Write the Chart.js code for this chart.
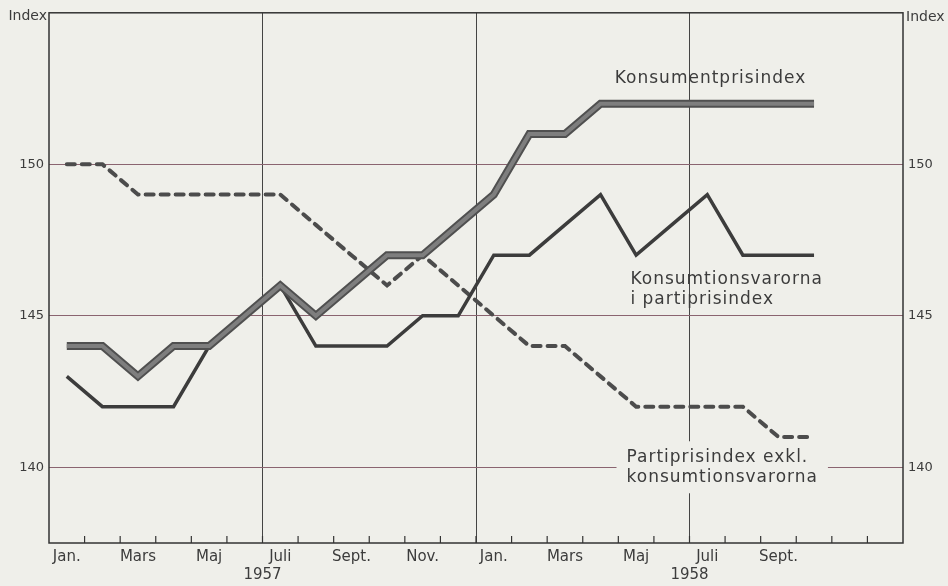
<!DOCTYPE html>
<html lang="sv">
<head>
<meta charset="UTF-8">
<title>Konsumentprisindex och partiprisindex 1957–1958</title>
<script src="https://cdn.jsdelivr.net/npm/chart.js@4.4.1/dist/chart.umd.min.js"></script>
<style>
  body { margin: 0; background: #efefea; }
  canvas { display: block; }
</style>
</head>
<body>
<canvas id="chart" width="948" height="586"></canvas>
<script>
// months jan 1957 - dec 1958
const months = ['1957-01', '1957-02', '1957-03', '1957-04', '1957-05', '1957-06',
  '1957-07', '1957-08', '1957-09', '1957-10', '1957-11', '1957-12',
  '1958-01', '1958-02', '1958-03', '1958-04', '1958-05', '1958-06',
  '1958-07', '1958-08', '1958-09', '1958-10', '1958-11', '1958-12'];
const monthLabels = ['Jan.', '', 'Mars', '', 'Maj', '', 'Juli', '', 'Sept.', '', 'Nov.', '',
  'Jan.', '', 'Mars', '', 'Maj', '', 'Juli', '', 'Sept.', '', '', ''];
const years = ['1957', '1958'];
const yTicks = [140, 145, 150];

const konsumentpris = [144, 144, 143, 144, 144, 145, 146, 145, 146, 147, 147, 148,
  149, 151, 151, 152, 152, 152, 152, 152, 152, 152, null, null];
const konsumtionsvaror = [143, 142, 142, 142, 144, 145, 146, 144, 144, 144, 145, 145,
  147, 147, 148, 149, 147, 148, 149, 147, 147, 147, null, null];
const partiprisExkl = [150, 150, 149, 149, 149, 149, 149, 148, 147, 146, 147, 146,
  145, 144, 144, 143, 142, 142, 142, 142, 141, 141, null, null];

const ink = '#3c3c3c';
const font = '"DejaVu Sans", sans-serif';

// texts written in the plot (x in month index, y in index value)
const notes = [
  { lines: ['Konsumentprisindex'], x: 15.4, y: 152.82 },
  { lines: ['Konsumtionsvarorna', 'i partiprisindex'], x: 15.84, y: 146.2 },
  { lines: ['Partiprisindex exkl.', 'konsumtionsvarorna'], x: 15.73, y: 140.33, box: true }
];

const decor = {
  id: 'decor',
  beforeDatasetsDraw(chart) {
    const { ctx, scales: { x, y } } = chart;
    ctx.save();
    ctx.font = '17px ' + font;
    ctx.letterSpacing = '1px';
    ctx.textBaseline = 'middle';
    ctx.textAlign = 'left';
    notes.forEach(n => {
      const px = x.getPixelForValue(n.x), py = y.getPixelForValue(n.y);
      if (n.box) {
        const w = Math.max(...n.lines.map(l => ctx.measureText(l).width));
        ctx.fillStyle = '#efefea';
        ctx.fillRect(px - 10, py - 16, w + 20, 20 * n.lines.length + 12);
      }
      ctx.fillStyle = ink;
      n.lines.forEach((l, i) => ctx.fillText(l, px, py + i * 20));
    });
    ctx.restore();
  },
  afterDraw(chart) {
    const { ctx, chartArea: a, scales: { x } } = chart;
    ctx.save();
    ctx.strokeStyle = '#333';
    ctx.lineWidth = 1.5;
    ctx.strokeRect(a.left, a.top, a.right - a.left, a.bottom - a.top);
    // small inward ticks between months
    ctx.lineWidth = 1.2;
    for (let i = 1; i < months.length; i++) {
      const px = (x.getPixelForValue(i - 1) + x.getPixelForValue(i)) / 2;
      ctx.beginPath();
      ctx.moveTo(px, a.bottom);
      ctx.lineTo(px, a.bottom - 7);
      ctx.stroke();
    }
    ctx.fillStyle = ink;
    ctx.font = '15px ' + font;
    ctx.textAlign = 'center';
    ctx.textBaseline = 'middle';
    years.forEach(yr => {
      const i = months.indexOf(yr + '-07');
      const px = (x.getPixelForValue(i - 1) + x.getPixelForValue(i)) / 2;
      ctx.fillText(yr, px, a.bottom + 32);
    });
    ctx.font = '14px ' + font;
    ctx.textAlign = 'right';
    ctx.fillText('Index', a.left - 2, a.top + 4);
    ctx.textAlign = 'left';
    ctx.fillText('Index', a.right + 3, a.top + 5);
    ctx.restore();
  }
};

const yScale = (pos, width) => ({
  position: pos,
  min: 137.5,
  max: 155,
  afterBuildTicks: s => { s.ticks = yTicks.map(v => ({ value: v })); },
  afterFit: s => { s.width = width; },
  border: { display: false },
  grid: { display: pos === 'left', color: '#8a6470', lineWidth: 1, drawTicks: false },
  ticks: { color: ink, font: { family: font, size: 13 }, padding: 5 }
});

new Chart(document.getElementById('chart'), {
  type: 'line',
  data: {
    labels: months,
    datasets: [
      { data: partiprisExkl, borderColor: '#4c4c4c', borderWidth: 4, borderDash: [8, 7],
        borderCapStyle: 'round', order: 4 },
      { data: konsumtionsvaror, borderColor: '#3c3c3c', borderWidth: 3.5, order: 3 },
      { data: konsumentpris, borderColor: '#505050', borderWidth: 8, order: 2 },
      { data: konsumentpris, borderColor: '#7e7e7e', borderWidth: 4, order: 1 }
    ]
  },
  options: {
    responsive: false,
    animation: false,
    layout: { padding: { top: 9 } },
    elements: {
      point: { radius: 0 },
      line: { tension: 0, fill: false, borderJoinStyle: 'miter' }
    },
    plugins: { legend: { display: false }, tooltip: { enabled: false } },
    scales: {
      x: {
        offset: true,
        afterFit: s => { s.height = 43; },
        border: { display: false },
        grid: {
          offset: true,
          drawTicks: false,
          color: c => {
            const m = months[c.index];
            return m && c.index > 0 && (m.endsWith('-07') || m.endsWith('-01')) ? '#444' : 'transparent';
          }
        },
        ticks: {
          autoSkip: false,
          maxRotation: 0,
          padding: 5,
          color: ink,
          font: { family: font, size: 15 },
          callback: (v, i) => monthLabels[i]
        }
      },
      y: yScale('left', 49),
      y2: yScale('right', 45)
    }
  },
  plugins: [decor]
});
</script>
</body>
</html>
